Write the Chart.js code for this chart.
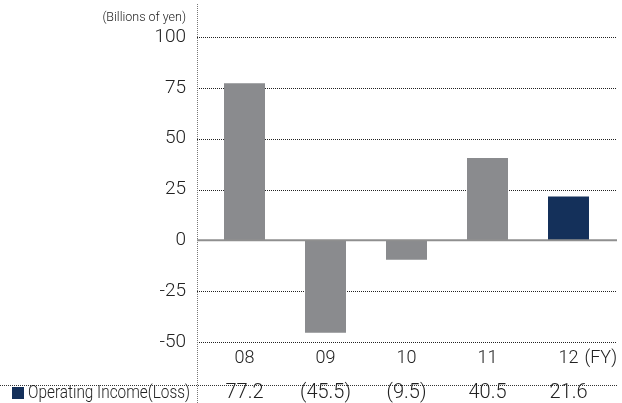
<!DOCTYPE html>
<html>
<head>
<meta charset="utf-8">
<script src="https://cdn.jsdelivr.net/npm/chart.js@4"></script>
<style>
  html, body { margin: 0; padding: 0; background: #fff; }
  #wrap { width: 622px; height: 403px; position: relative; }
</style>
</head>
<body>
<div id="wrap"><canvas id="c" width="622" height="403"></canvas></div>
<script>
// Fiscal years and operating income (billions of yen)
const years = ['08', '09', '10', '11', '12'];
const operatingIncome = [77.2, -45.5, -9.5, 40.5, 21.6];
const tableLabels = ['77.2', '(45.5)', '(9.5)', '40.5', '21.6'];
const yTicks = [100, 75, 50, 25, 0, -25, -50];

const GRAY = '#8a8b8e';
const NAVY = '#14305a';
const TEXT = '#222';
const FONT = 'Roboto, "Liberation Sans", Arial, sans-serif';

// Draws the axis rule, gridlines, category labels and the data row below the plot
const decorations = {
  id: 'decorations',
  beforeDatasetsDraw(chart) {
    const ctx = chart.ctx;
    const y = chart.scales.y;
    ctx.save();
    // dotted gridlines
    ctx.strokeStyle = '#222';
    ctx.lineWidth = 1;
    ctx.setLineDash([1, 1]);
    yTicks.forEach(v => {
      if (v === 0) return;
      const py = Math.round(y.getPixelForValue(v)) + 0.5;
      ctx.beginPath();
      ctx.moveTo(197, py);
      ctx.lineTo(617, py);
      ctx.stroke();
    });
    // vertical axis rule
    ctx.strokeStyle = '#777';
    ctx.beginPath();
    ctx.moveTo(197.5, 4);
    ctx.lineTo(197.5, 403);
    ctx.stroke();
    // separator above the data row
    ctx.strokeStyle = '#333';
    ctx.beginPath();
    ctx.moveTo(0, 385.5);
    ctx.lineTo(617, 385.5);
    ctx.stroke();
    ctx.restore();
  },
  afterDatasetsDraw(chart) {
    const ctx = chart.ctx;
    const x = chart.scales.x;
    const y = chart.scales.y;
    ctx.save();
    // zero line
    const z = y.getPixelForValue(0);
    ctx.strokeStyle = '#8f8f8f';
    ctx.lineWidth = 2;
    ctx.beginPath();
    ctx.moveTo(197, z);
    ctx.lineTo(617, z);
    ctx.stroke();

    // unit caption
    ctx.fillStyle = TEXT;
    ctx.textAlign = 'right';
    ctx.textBaseline = 'middle';
    ctx.font = '300 12.5px ' + FONT;
    ctx.fillText('(Billions of yen)', 186, 18);

    // category labels
    ctx.font = '300 18px ' + FONT;
    ctx.textAlign = 'center';
    years.forEach((yr, i) => {
      const px = x.getPixelForValue(i);
      ctx.fillText(yr, px, 358);
    });
    ctx.textAlign = 'left';
    const lastX = x.getPixelForValue(years.length - 1);
    ctx.fillText('(FY)', lastX + 16, 358);

    // data row
    ctx.font = '300 20px ' + FONT;
    ctx.textAlign = 'center';
    tableLabels.forEach((t, i) => {
      ctx.fillText(t, x.getPixelForValue(i), 393);
    });

    // legend key and row title
    ctx.fillStyle = NAVY;
    ctx.fillRect(12, 387, 12, 12);
    ctx.fillStyle = TEXT;
    ctx.font = '300 19px ' + FONT;
    ctx.textAlign = 'left';
    const label = 'Operating Income(Loss)';
    const w = ctx.measureText(label).width;
    const sx = 162 / w;
    ctx.translate(28, 393);
    ctx.scale(sx, 1);
    ctx.fillText(label, 0, 0);
    ctx.restore();
  }
};

new Chart(document.getElementById('c'), {
  type: 'bar',
  data: {
    labels: years,
    datasets: [{
      label: 'Operating Income(Loss)',
      data: operatingIncome,
      backgroundColor: [GRAY, GRAY, GRAY, GRAY, NAVY],
      borderWidth: 0,
      barPercentage: 0.506,
      categoryPercentage: 1
    }]
  },
  options: {
    responsive: false,
    animation: false,
    layout: { padding: { top: 37, bottom: 61, right: 13, left: 0 } },
    plugins: { legend: { display: false }, tooltip: { enabled: false } },
    scales: {
      x: { display: false },
      y: {
        min: -50,
        max: 100,
        afterFit(scale) { scale.width = 204; },
        afterBuildTicks(scale) { scale.ticks = yTicks.map(v => ({ value: v })); },
        grid: { display: false, drawTicks: false },
        border: { display: false },
        ticks: {
          padding: 18,
          color: TEXT,
          font: { family: FONT, size: 19, weight: '300' }
        }
      }
    }
  },
  plugins: [decorations]
});
</script>
</body>
</html>
